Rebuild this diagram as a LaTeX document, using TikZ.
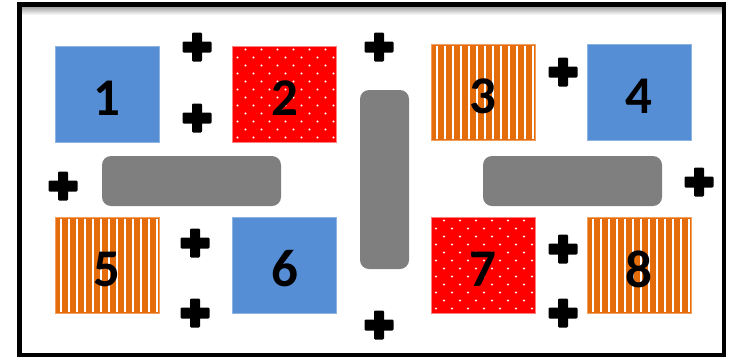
\documentclass[tikz,border=0pt]{standalone}
\usepackage{fontspec}
\setmainfont{Carlito}
\definecolor{cblue}{HTML}{558ED5}
\definecolor{cblueb}{HTML}{8DB3E2}
\definecolor{cred}{HTML}{FF0000}
\definecolor{credb}{HTML}{FF8080}
\definecolor{corange}{HTML}{E46C0A}
\definecolor{coranb}{HTML}{F2A060}
\definecolor{cgray}{HTML}{7F7F7F}
\begin{document}
\begin{tikzpicture}[x=1pt,y=-1pt,
  box/.style={minimum width=104pt, minimum height=96pt, inner sep=0pt, line width=0.7pt},
  bluebox/.style={box, fill=cblue, draw=cblueb},
  redbox/.style={box, fill=cred, draw=credb},
  orangebox/.style={box, fill=corange, draw=coranb},
  digit/.style={font=\fontsize{53}{53}\selectfont\bfseries, inner sep=0pt, text=black},
  bar/.style={fill=cgray, rounded corners=9pt},
  crossmark/.pic={
    \fill[black, rounded corners=1.2pt] (-5,-14.5) rectangle (5,14.5);
    \fill[black, rounded corners=1.2pt] (-14.5,-5.5) rectangle (14.5,5.5);
  }]
\useasboundingbox (0,0) rectangle (734,360);
% frame
\shade[top color=black!35, bottom color=white] (22,7) rectangle (722,15);
\draw[line width=4.5pt] (19.5,4.7) rectangle (724,355);
% boxes
\node[bluebox]   (b1) at (107,94.5) {};
\node[redbox]    (b2) at (284.5,94.5) {};
\node[orangebox] (b3) at (483,92) {};
\node[bluebox]   (b4) at (639,92) {};
\node[orangebox] (b5) at (107,265) {};
\node[bluebox]   (b6) at (284.5,265) {};
\node[redbox]    (b7) at (483,265.5) {};
\node[orangebox] (b8) at (639,265.5) {};
% stripes
\foreach \b in {b3,b5,b8}{
  \foreach \k in {0,...,12}{
    \draw[white, line width=1.8pt]
      ([xshift={-46pt+8pt*\k}, yshift=46.5pt]\b.center) --
      ([xshift={-46pt+8pt*\k}, yshift=-46.5pt]\b.center);
  }
}
% dots
\foreach \b in {b2,b7}{
  \begin{scope}
    \clip (\b.south west) rectangle (\b.north east);
    \foreach \j in {0,...,11}{
      \pgfmathsetmacro{\off}{mod(\j,2)==0 ? 13 : 5}
      \foreach \k in {0,...,6}{
        \fill[white] ([xshift={-52pt+\off pt+16pt*\k}, yshift={45pt-8pt*\j}]\b.center) circle (1.1pt);
      }
    }
  \end{scope}
}
% digits
\foreach \b/\t in {b1/1,b2/2,b3/3,b4/4,b5/5,b6/6,b7/7,b8/8}{
  \node[digit] (d\b) at ([yshift=-4pt]\b.center) {\t};
}
% gray bars
\fill[bar] (102,156) rectangle (281,206);
\fill[bar] (483,156) rectangle (662,206);
\fill[bar] (360,90) rectangle (409,269);
% plus signs
\foreach \p/\q in {197/47,197/118,379/47,563/72,63/186,699/182,195/243,195/313,379/325,563/249,563/313}{
  \pic at (\p,\q) {crossmark};
}
\end{tikzpicture}
\end{document}
